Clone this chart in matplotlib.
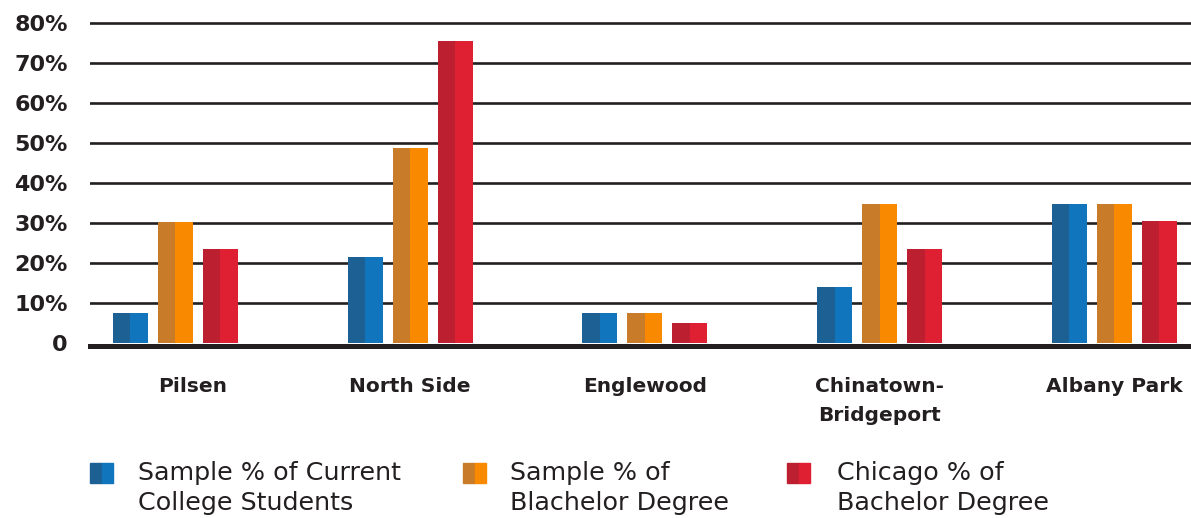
import matplotlib
matplotlib.use("Agg")
import matplotlib.pyplot as plt
from matplotlib.patches import Rectangle
from matplotlib.transforms import ScaledTranslation
import numpy as np

plt.rcParams['font.family'] = ['DejaVu Sans']

neighborhoods = ["Pilsen", "North Side", "Englewood", "Chinatown-\nBridgeport", "Albany Park"]
current_students = [7.6, 21.5, 7.5, 14.0, 34.8]
sample_bachelor = [30.3, 48.8, 7.5, 34.8, 34.8]
chicago_bachelor = [23.6, 75.5, 5.0, 23.5, 30.5]
series_labels = ["Sample % of Current\nCollege Students",
                 "Sample % of\nBlachelor Degree",
                 "Chicago % of\nBachelor Degree"]
yticks = [0, 10, 20, 30, 40, 50, 60, 70, 80]
ytick_labels = ["0", "10%", "20%", "30%", "40%", "50%", "60%", "70%", "80%"]

# (dark half, light half)
colors = [("#1c6094", "#1175bd"), ("#c87b28", "#f98a00"), ("#bc1f30", "#df1f32")]
ink = "#231f20"

fig = plt.figure(figsize=(11.91, 5.18), dpi=100)
ax = fig.add_axes([90 / 1191, (518 - 345.5) / 518, 1 - 90 / 1191, 345.5 / 518])

x = np.arange(len(neighborhoods))
width = 0.149
step = 0.1917
all_series = [current_students, sample_bachelor, chicago_bachelor]
for i, vals in enumerate(all_series):
    pos = x + (i - 1) * step
    ax.bar(pos - width / 4, vals, width / 2, color=colors[i][0], zorder=3)
    ax.bar(pos + width / 4, vals, width / 2, color=colors[i][1], zorder=3)

ax.set_xlim(-0.364, len(neighborhoods) - 1 + 0.326)
ax.set_ylim(-0.6, 85.75)

for t in yticks[1:]:
    ax.axhline(t, color=ink, lw=1.9, zorder=1)

for s in ["top", "right", "left"]:
    ax.spines[s].set_visible(False)
ax.spines["bottom"].set_linewidth(3.6)
ax.spines["bottom"].set_color(ink)
ax.spines["bottom"].set_zorder(2)

ax.set_yticks(yticks)
ax.set_yticklabels(ytick_labels, fontsize=16, fontweight="bold", color=ink)
ax.tick_params(axis="y", length=0, pad=16)
ax.set_xticks(x)
ax.set_xticklabels(neighborhoods, fontsize=14.5, fontweight="bold", color=ink, linespacing=1.62)
ax.tick_params(axis="x", length=0, pad=23)
for lab in ax.get_xticklabels():
    lab.set_verticalalignment("top")
first = ax.get_xticklabels()[0]
first.set_transform(first.get_transform() + ScaledTranslation(0.175, 0, fig.dpi_scale_trans))

# legend drawn by hand: two-tone square + two-line label
legend_x = [90, 463, 787]
text_x = [138, 510, 837]
for i in range(3):
    x0 = legend_x[i] / 1191
    y0 = (518 - 483) / 518
    w = 11.5 / 1191
    h = 20 / 518
    fig.patches.append(Rectangle((x0, y0), w, h, transform=fig.transFigure, color=colors[i][0]))
    fig.patches.append(Rectangle((x0 + w, y0), w, h, transform=fig.transFigure, color=colors[i][1]))
    fig.text(text_x[i] / 1191, (518 - 461) / 518, series_labels[i], fontsize=18.3,
             color=ink, va="top", ha="left", linespacing=1.32)

fig.savefig("out.png", dpi=100, facecolor="white")
